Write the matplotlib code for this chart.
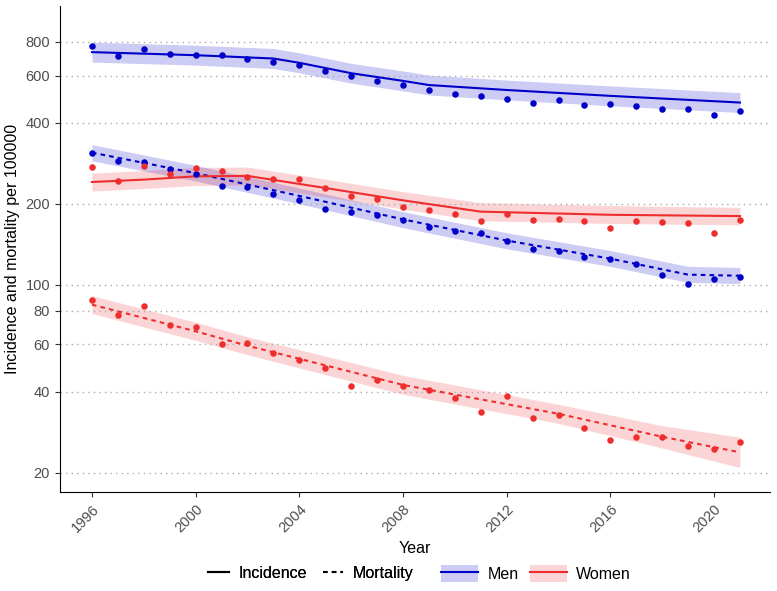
import matplotlib
matplotlib.use("Agg")
import matplotlib.pyplot as plt
from matplotlib.lines import Line2D
from matplotlib.patches import Patch
from matplotlib.ticker import FixedLocator, NullLocator, FixedFormatter

plt.rcParams['font.family'] = ['Liberation Sans', 'DejaVu Sans']

years = list(range(1996, 2022))

# observed rates per 100000
men_inc = [771, 708, 754, 720, 714, 714, 690, 676, 656, 625, 598, 573, 551,
           532, 513, 503, 491, 476, 486, 468, 472, 463, 450, 451, 426, 444]
men_mort = [310, 289, 287, 270, 259, 233, 230, 218, 206, 192, 187, 181, 174,
            164, 159, 156, 145, 136, 133, 127, 125, 119, 109, 101, 105, 107]
women_inc = [274, 243, 276, 259, 272, 264, 251, 247, 247, 228, 213, 209, 195,
             189, 184, 173, 183, 174, 176, 172, 163, 173, 171, 169, 156, 174]
women_mort = [87.4, 77.1, 83.5, 70.8, 69.8, 60.2, 60.7, 55.6, 52.3, 49.1, 41.9, 44.4, 41.9,
              40.6, 38.0, 33.6, 38.6, 31.8, 32.8, 29.2, 26.5, 27.1, 27.1, 25.1, 24.4, 25.9]

# fitted trends with confidence bands
men_inc_yr = [1996, 2000, 2003, 2004, 2006, 2008, 2009, 2012, 2016, 2021]
men_inc_fit = [733, 714, 694, 669, 612, 573, 553, 530, 504, 476]
men_inc_lo = [673, 656, 637, 614, 562, 526, 508, 487, 463, 437]
men_inc_hi = [798, 778, 756, 729, 666, 624, 602, 577, 549, 518]

men_mort_yr = [1996, 2000, 2004, 2008, 2012, 2016, 2019, 2021]
men_mort_fit = [310, 260, 214, 175, 146, 125, 109, 108]
men_mort_lo = [289, 243, 200, 163, 136, 117, 102, 101]
men_mort_hi = [332, 278, 229, 187, 156, 134, 117, 116]

women_inc_yr = [1996, 1998, 2000, 2002, 2005, 2008, 2011, 2016, 2021]
women_inc_fit = [241, 246, 253, 254, 229, 206, 187, 182, 180]
women_inc_lo = [223, 228, 234, 235, 212, 191, 173, 169, 167]
women_inc_hi = [260, 266, 273, 274, 247, 222, 202, 197, 194]

women_mort_yr = [1996, 2000, 2002, 2008, 2014, 2018, 2021]
women_mort_fit = [84.3, 67.1, 59.3, 42.4, 33.1, 27.2, 23.8]
women_mort_lo = [78.1, 62.1, 54.9, 39.1, 30.5, 24.7, 20.9]
women_mort_hi = [91.0, 72.5, 64.0, 46.0, 35.9, 29.9, 27.1]

blue = "#0000C8"
red = "#EE2E2E"
dash = (0, (2.2, 2.0))

fig = plt.figure(figsize=(7.77, 5.91), dpi=100)
ax = fig.add_axes([0.077, 0.167, 0.914, 0.823])

series = [
    (years, men_inc, men_inc_yr, men_inc_fit, men_inc_lo, men_inc_hi, blue, "-"),
    (years, men_mort, men_mort_yr, men_mort_fit, men_mort_lo, men_mort_hi, blue, dash),
    (years, women_inc, women_inc_yr, women_inc_fit, women_inc_lo, women_inc_hi, red, "-"),
    (years, women_mort, women_mort_yr, women_mort_fit, women_mort_lo, women_mort_hi, red, dash),
]
for x, obs, fx, fit, lo, hi, col, ls in series:
    ax.fill_between(fx, lo, hi, color=col, alpha=0.2, linewidth=0)
    ax.plot(fx, fit, color=col, linestyle=ls, linewidth=1.5)
    ax.scatter(x, obs, color=col, s=22, zorder=3, linewidth=0)

ax.set_yscale("log")
ax.set_ylim(16.9, 1089)
ax.set_xlim(1994.76, 2022.16)
yt = [20, 40, 60, 80, 100, 200, 400, 600, 800]
ax.yaxis.set_major_locator(FixedLocator(yt))
ax.yaxis.set_major_formatter(FixedFormatter([str(v) for v in yt]))
ax.yaxis.set_minor_locator(NullLocator())
ax.set_xticks(range(1996, 2021, 4))
plt.setp(ax.get_xticklabels(), rotation=45, ha="right", rotation_mode="anchor")
ax.tick_params(labelsize=10.5, color="#333333", labelcolor="#4d4d4d")
ax.grid(axis="y", linestyle=(0, (1, 3)), color="#aaaaaa", linewidth=1)
ax.spines["top"].set_visible(False)
ax.spines["right"].set_visible(False)
ax.set_xlabel("Year", fontsize=11.5)
ax.set_ylabel("Incidence and mortality per 100000", fontsize=11.5)

type_handles = [
    Line2D([], [], color="black", linewidth=1.5),
    Line2D([], [], color="black", linewidth=1.5, linestyle=dash),
]
sex_handles = [
    (Patch(facecolor=blue, alpha=0.2), Line2D([], [], color=blue, linewidth=1.5)),
    (Patch(facecolor=red, alpha=0.2), Line2D([], [], color=red, linewidth=1.5)),
]
leg1 = fig.legend(type_handles, ["Incidence", "Mortality"], loc="center",
                  bbox_to_anchor=(0.40, 0.03), ncol=2, frameon=False, fontsize=11.5,
                  handlelength=1.3, handletextpad=0.6, columnspacing=1.0)
fig.add_artist(leg1)
fig.legend(sex_handles, ["Men", "Women"], loc="center",
           bbox_to_anchor=(0.69, 0.03), ncol=2, frameon=False, fontsize=11.5,
           handlelength=2.3, handleheight=1.3, handletextpad=0.6, columnspacing=0.7)

fig.savefig("out.png", dpi=100)
